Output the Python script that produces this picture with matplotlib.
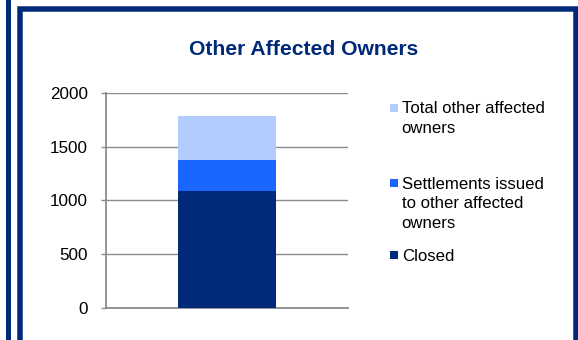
import matplotlib
matplotlib.use("Agg")
import matplotlib.pyplot as plt
from matplotlib.lines import Line2D
from matplotlib.patches import Rectangle

# Chart content
title = "Other Affected Owners"
series_labels = [
    "Total other affected\nowners",
    "Settlements issued\nto other affected\nowners",
    "Closed",
]
# stacked segments, bottom to top
closed = 1090
settlements = 288
other_remaining = 410
segment_values = [closed, settlements, other_remaining]
segment_colors = ["#00297A", "#1A66FF", "#B3CCFF"]
yticks = [0, 500, 1000, 1500, 2000]

NAVY = "#00297A"
GRID = "#8C8C8C"
W, H = 578, 340
DPI = 100

plt.rcParams["font.family"] = ["Liberation Sans", "DejaVu Sans"]

fig = plt.figure(figsize=(W / DPI, H / DPI), dpi=DPI)
fig.patch.set_facecolor("white")


def fx(x):
    return x / W


def fy(y):
    return 1 - y / H


def px2pt(p):
    return p * 72 / DPI


# decorative border lines
fig.add_artist(Line2D([fx(7.5), fx(7.5)], [fy(-5), fy(H + 5)],
                      color=NAVY, lw=px2pt(5), transform=fig.transFigure))
fig.add_artist(Line2D([fx(20), fx(20), fx(575.5), fx(575.5)],
                      [fy(H + 5), fy(8.5), fy(8.5), fy(H + 5)],
                      color=NAVY, lw=px2pt(5.5), solid_joinstyle="miter",
                      transform=fig.transFigure))

# title
fig.text(fx(303.5), fy(55), title, ha="center", va="baseline",
         fontsize=15.2, fontweight="bold", color=NAVY)

# plot area
ax = fig.add_axes([fx(106), 1 - 307.7 / H, 242 / W, 214.4 / H])
bottom = 0
for val, col in zip(segment_values, segment_colors):
    ax.bar(0, val, width=0.404, bottom=bottom, color=col, zorder=3)
    bottom += val

ax.set_xlim(-0.5, 0.5)
ax.set_ylim(yticks[0], yticks[-1])
ax.set_yticks(yticks)
ax.set_yticklabels([str(t) for t in yticks], fontsize=12.3, color="black")
ax.set_xticks([])
ax.grid(axis="y", color=GRID, lw=1.0, zorder=0)
for side in ("top", "right"):
    ax.spines[side].set_visible(False)
for side in ("left", "bottom"):
    ax.spines[side].set_color(GRID)
    ax.spines[side].set_linewidth(1.3)
ax.tick_params(axis="y", length=5 * 72 / DPI, width=1.0, color=GRID,
               pad=13 * 72 / DPI)

# legend, top entry first
legend_colors = segment_colors[::-1]
entry_baselines = [113.3, 189.0, 261.0]
line_step = 19.5
for label, col, base in zip(series_labels, legend_colors, entry_baselines):
    fig.add_artist(Rectangle((fx(389.5), fy(base - 1.7)), 8 / W, 8 / H,
                             facecolor=col, edgecolor="none",
                             transform=fig.transFigure))
    for i, line in enumerate(label.split("\n")):
        fig.text(fx(401.7), fy(base + i * line_step), line, ha="left",
                 va="baseline", fontsize=12.1, color="black")

fig.savefig("out.png", dpi=DPI)
